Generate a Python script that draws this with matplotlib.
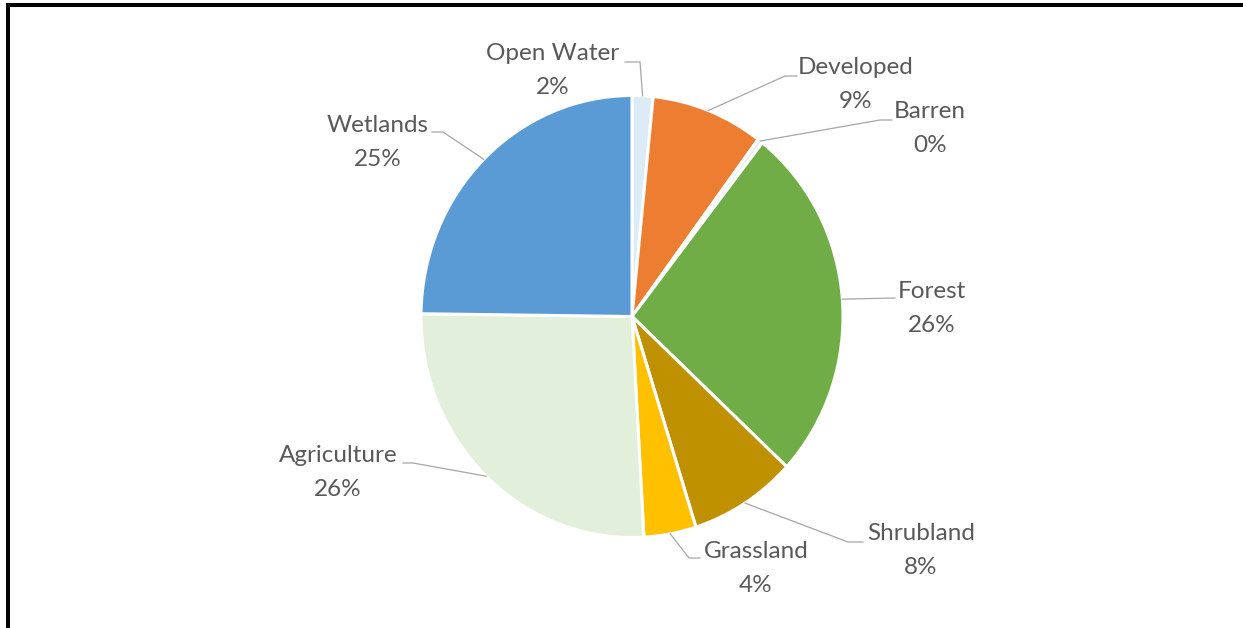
import numpy as np
import matplotlib
matplotlib.use("Agg")
import matplotlib.pyplot as plt
from matplotlib.lines import Line2D

# -- Datos --
categories = ["Open Water", "Developed", "Barren", "Forest",
              "Shrubland", "Grassland", "Agriculture", "Wetlands"]
values = [1.6, 8.6, 0.4, 26.3, 8.2, 4.0, 26.1, 24.8]
colors = ["#DDEBF7", "#ED7D31", "#EDEDED", "#70AD47",
          "#BF9000", "#FFC000", "#E2EFDA", "#5B9BD5"]

# -- Layout (pixeles, origen arriba-izquierda) --
W, H = 1243, 628
CENTER = (632, 316.5)
RY, RX = 221, 211          # el pie original esta algo estirado en vertical
SX = RY / RX               # escala x: pixeles -> unidades de datos
# centro del texto (linea 1) y puntos del conector despues del borde
label_pos = {
    "Open Water":  ((553, 53),  [(640, 62), (625, 62)]),
    "Developed":   ((856, 68),  [(785, 76), (797, 76)]),
    "Barren":      ((930, 112), [(880, 120), (892, 120)]),
    "Forest":      ((932, 292), [(895, 298)]),
    "Shrubland":   ((921, 534), [(848, 542), (863, 542)]),
    "Grassland":   ((756, 551), [(689, 558), (700, 558)]),
    "Agriculture": ((338, 455), [(413, 463), (403, 463)]),
    "Wetlands":    ((378, 125), [(443, 132), (432, 132)]),
}
LINE_GAP = 34
TEXT_COLOR = "#595959"
LEADER_COLOR = "#A6A6A6"

plt.rcParams["font.family"] = ["Lato", "DejaVu Sans"]

fig = plt.figure(figsize=(W / 100, H / 100), dpi=100)
ax = fig.add_axes([0, 0, 1, 1])
ax.axis("off")


def px(x):
    return x * SX


def py(y):
    return H - y


wedges, _ = ax.pie(values, colors=colors, startangle=90, counterclock=False,
                   center=(px(CENTER[0]), py(CENTER[1])), radius=RY,
                   wedgeprops=dict(edgecolor="white", linewidth=2.2))
ax.set_aspect("auto")
ax.set_xlim(0, px(W))
ax.set_ylim(0, H)

for w, name, val in zip(wedges, categories, values):
    mid = np.deg2rad((w.theta1 + w.theta2) / 2)
    sx = px(CENTER[0]) + RY * np.cos(mid)
    sy = py(CENTER[1]) + RY * np.sin(mid)
    (tx, ty), pts = label_pos[name]
    xs = [sx] + [px(p[0]) for p in pts]
    ys = [sy] + [py(p[1]) for p in pts]
    ax.plot(xs, ys, color=LEADER_COLOR, linewidth=0.9, zorder=1)
    ax.text(px(tx), py(ty), name, ha="center", va="center",
            fontsize=17.5, color=TEXT_COLOR)
    ax.text(px(tx), py(ty + LINE_GAP), f"{val:.0f}%", ha="center", va="center",
            fontsize=17.5, color=TEXT_COLOR)

# -- Marco --
ax.add_line(Line2D([px(8), px(8)], [py(5), 0], color="black", linewidth=2.9,
                   solid_capstyle="projecting"))
ax.add_line(Line2D([px(8), px(W)], [py(5), py(5)], color="black", linewidth=2.9,
                   solid_capstyle="projecting"))

fig.savefig("out.png", dpi=100)
print("[OK] out.png")
